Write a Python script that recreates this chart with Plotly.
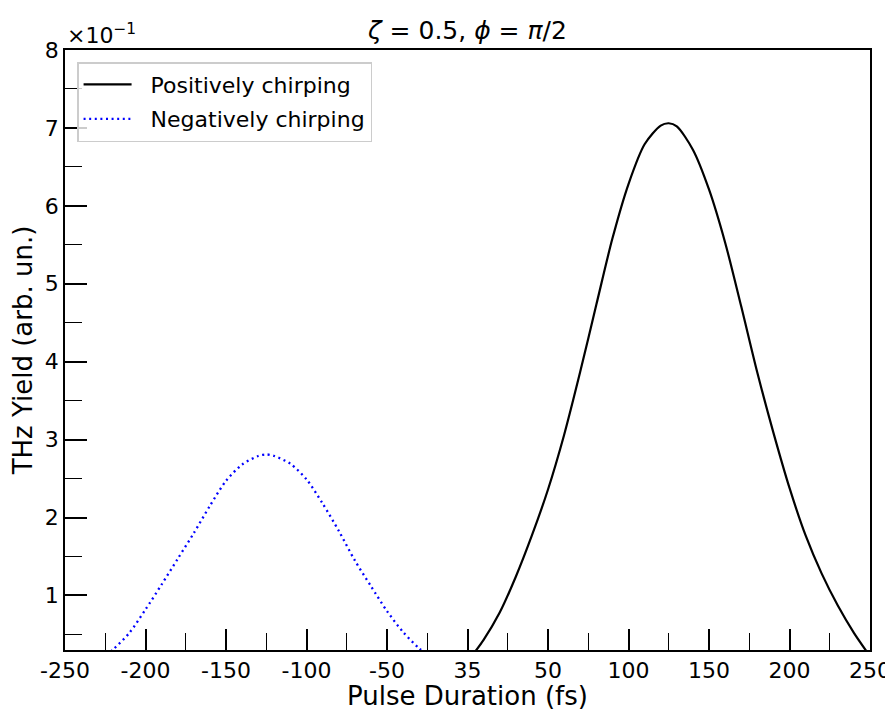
import plotly.graph_objects as go

# Pulse duration axis positions (fs) and THz yield (in units of 1e-1, arb. un.)
pos_x = [0, 10, 20, 30, 40, 50, 60, 70, 80, 90, 100, 110, 120, 125, 130, 140,
         150, 160, 170, 180, 190, 200, 210, 220, 230, 240, 250]
pos_y = [0.15, 0.43, 0.78, 1.24, 1.77, 2.36, 3.06, 3.87, 4.73, 5.58, 6.28, 6.79,
         7.03, 7.06, 7.02, 6.72, 6.21, 5.53, 4.71, 3.86, 3.09, 2.38, 1.77, 1.28,
         0.87, 0.52, 0.22]

neg_x = [-230, -220, -210, -200, -190, -180, -170, -160, -150, -140, -130, -125,
         -120, -110, -100, -90, -80, -70, -60, -50, -40, -30, -20]
neg_y = [0.15, 0.31, 0.52, 0.82, 1.14, 1.47, 1.80, 2.15, 2.47, 2.68, 2.79, 2.81,
         2.79, 2.69, 2.49, 2.18, 1.83, 1.45, 1.12, 0.80, 0.53, 0.32, 0.16]

x_tickvals = [-250, -200, -150, -100, -50, 0, 50, 100, 150, 200, 250]
x_ticktext = ["-250", "-200", "-150", "-100", "-50", "35", "50", "100", "150", "200", "250"]
y_tickvals = [1, 2, 3, 4, 5, 6, 7, 8]
y_ticktext = ["1", "2", "3", "4", "5", "6", "7", "8"]

FONT = "DejaVu Sans"
NB = "\u00a0\u00a0"

fig = go.Figure()
fig.add_trace(go.Scatter(x=pos_x, y=pos_y, mode="lines", name=NB + "Positively chirping",
                         legendgroup="p",
                         line=dict(color="black", width=2.2, shape="spline", smoothing=0.8)))
fig.add_trace(go.Scatter(x=neg_x, y=neg_y, mode="lines", name=NB + "Negatively chirping",
                         legendgroup="n",
                         line=dict(color="blue", width=2.3, dash="2px,3.6px",
                                   shape="spline", smoothing=0.8)))

# page body has an 8px margin, so the figure is sized/offset to compensate
fig.update_layout(
    width=885, height=702,
    margin=dict(l=57, r=23, t=42, b=60, autoexpand=False),
    paper_bgcolor="white", plot_bgcolor="white",
    font=dict(family=FONT, size=22, color="black"),
    showlegend=True,
    legend=dict(x=0.015, y=0.98, xanchor="left", yanchor="top",
                bgcolor="rgba(255,255,255,0.8)", bordercolor="#cccccc", borderwidth=1.5,
                itemwidth=48, tracegroupgap=3,
                font=dict(size=22, family=FONT)),
    title=dict(text="<i>ζ</i> = 0.5, <i>ϕ</i> = <i>π</i>/2", x=0.5, xref="paper",
               y=1 - 22 / 702, yref="container", xanchor="center", yanchor="middle",
               font=dict(size=25, family=FONT), automargin=False),
)

fig.update_xaxes(range=[-250, 250], tickvals=x_tickvals, ticktext=x_ticktext,
                 ticks="inside", ticklen=21, tickwidth=1.5, tickcolor="black",
                 minor=dict(ticks="inside", dtick=25, tick0=-250, ticklen=17,
                            tickwidth=1.3, tickcolor="black"),
                 showline=True, linecolor="black", linewidth=1.5, mirror=True,
                 showgrid=False, zeroline=False, automargin=False,
                 tickfont=dict(size=22, family=FONT))
fig.update_yaxes(range=[0.3, 8], tickvals=y_tickvals, ticktext=y_ticktext,
                 ticks="inside", ticklen=22, tickwidth=1.5, tickcolor="black",
                 minor=dict(ticks="inside", dtick=0.5, tick0=0, ticklen=17,
                            tickwidth=1.3, tickcolor="black"),
                 showline=True, linecolor="black", linewidth=1.5, mirror=True,
                 showgrid=False, zeroline=False, automargin=False,
                 tickfont=dict(size=22, family=FONT),
                 title=dict(text="THz Yield (arb. un.)", font=dict(size=26, family=FONT),
                            standoff=5))

# x-axis title
fig.add_annotation(text="Pulse Duration (fs)", xref="paper", yref="paper", x=0.5, y=0.0,
                   xanchor="center", yanchor="middle", yshift=-46, showarrow=False,
                   font=dict(size=26, family=FONT))

fig.add_annotation(text="×10<sup>−1</sup>", xref="paper", yref="paper", x=0.0, y=1.0,
                   xanchor="left", yanchor="bottom", showarrow=False, xshift=0, yshift=0,
                   font=dict(size=22, family=FONT))

fig.write_html("out.html")
